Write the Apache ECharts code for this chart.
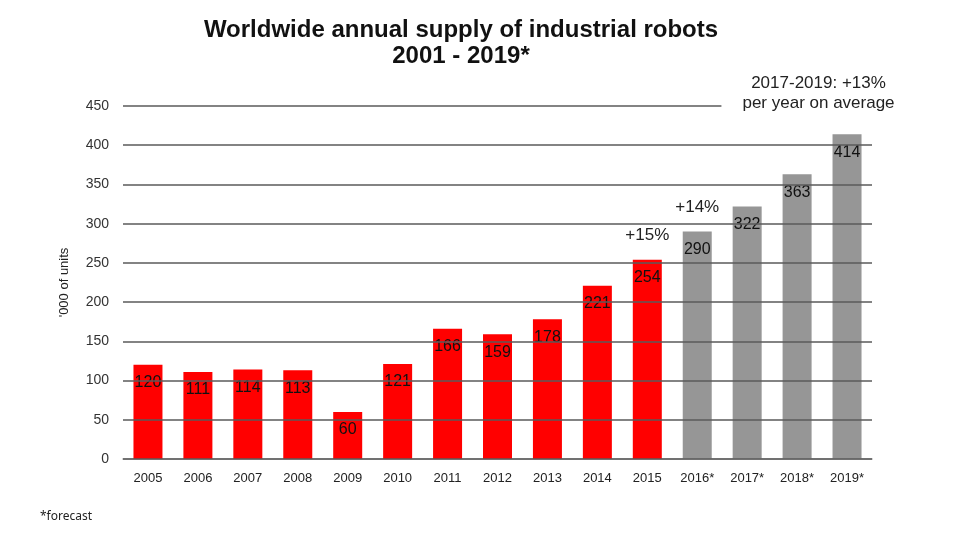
<!DOCTYPE html>
<html>
<head>
<meta charset="utf-8">
<script src="https://cdn.jsdelivr.net/npm/echarts@6/dist/echarts.min.js"></script>
<style>
  html, body { margin: 0; padding: 0; background: #fff; }
  #chart { width: 960px; height: 540px; }
</style>
</head>
<body>
<div id="chart"></div>
<script>
// data
const years = ['2005', '2006', '2007', '2008', '2009', '2010', '2011', '2012',
  '2013', '2014', '2015', '2016*', '2017*', '2018*', '2019*'];
const units = [120, 111, 114, 113, 60, 121, 166, 159, 178, 221, 254, 290, 322, 363, 414];
const forecastFrom = '2016*';
const growthNotes = [
  { year: '2015', value: 254, text: '+15%' },
  { year: '2016*', value: 290, text: '+14%' },
];

const firstForecast = years.indexOf(forecastFrom);
const barData = units.map((v, i) => ({
  value: v,
  itemStyle: { color: i >= firstForecast ? '#969696' : '#ff0000' },
}));

const myChart = echarts.init(document.getElementById('chart'));

const option = {
  animation: false,
  textStyle: { fontFamily: 'Liberation Sans, Arial, sans-serif' },
  title: {
    text: 'Worldwide annual supply of industrial robots\n2001 - 2019*',
    left: 456,
    textAlign: 'center',
    top: 12,
    textStyle: { fontSize: 24, fontWeight: 'bold', color: '#111', lineHeight: 26 },
  },
  grid: { left: 123, right: 88, top: 106, bottom: 81 },
  xAxis: {
    type: 'category',
    data: years,
    axisLine: { lineStyle: { color: '#a0a0a0', width: 1.5 } },
    axisTick: { show: false },
    axisLabel: { color: '#222', fontSize: 13, margin: 13 },
  },
  yAxis: {
    type: 'value',
    min: 0,
    max: 450,
    interval: 50,
    z: 3,
    name: "'000 of units",
    nameLocation: 'middle',
    nameGap: 52,
    nameTextStyle: { color: '#222', fontSize: 13 },
    axisLine: { show: false },
    axisTick: { show: false },
    axisLabel: { color: '#333', fontSize: 14, margin: 14 },
    splitLine: { lineStyle: { color: '#5a5a5a', width: 1.5 } },
  },
  graphic: [
    {
      type: 'text',
      x: 813,
      y: 73,
      z: 100,
      style: {
        text: '2017-2019: +13%\nper year on average',
        align: 'center',
        verticalAlign: 'top',
        fill: '#222',
        font: '17px Liberation Sans, Arial, sans-serif',
        lineHeight: 20,
        backgroundColor: '#fff',
        padding: [0, 10, 0, 21],
      },
    },
    {
      type: 'text',
      left: 40,
      top: 511,
      style: {
        text: '*forecast',
        fill: '#222',
        font: '12px Noto Sans, sans-serif',
      },
    },
  ],
  series: [
    {
      type: 'bar',
      data: barData,
      barWidth: 29,
      z: 2,
      label: {
        show: true,
        position: 'insideTop',
        distance: 10,
        color: '#111',
        fontSize: 16,
      },
      markPoint: {
        symbol: 'circle',
        symbolSize: 0,
        data: growthNotes.map(n => ({
          coord: [n.year, n.value],
          label: {
            show: true,
            formatter: n.text,
            offset: [0, -24],
            color: '#222',
            fontSize: 17,
          },
        })),
      },
    },
  ],
};

myChart.setOption(option);
</script>
</body>
</html>
